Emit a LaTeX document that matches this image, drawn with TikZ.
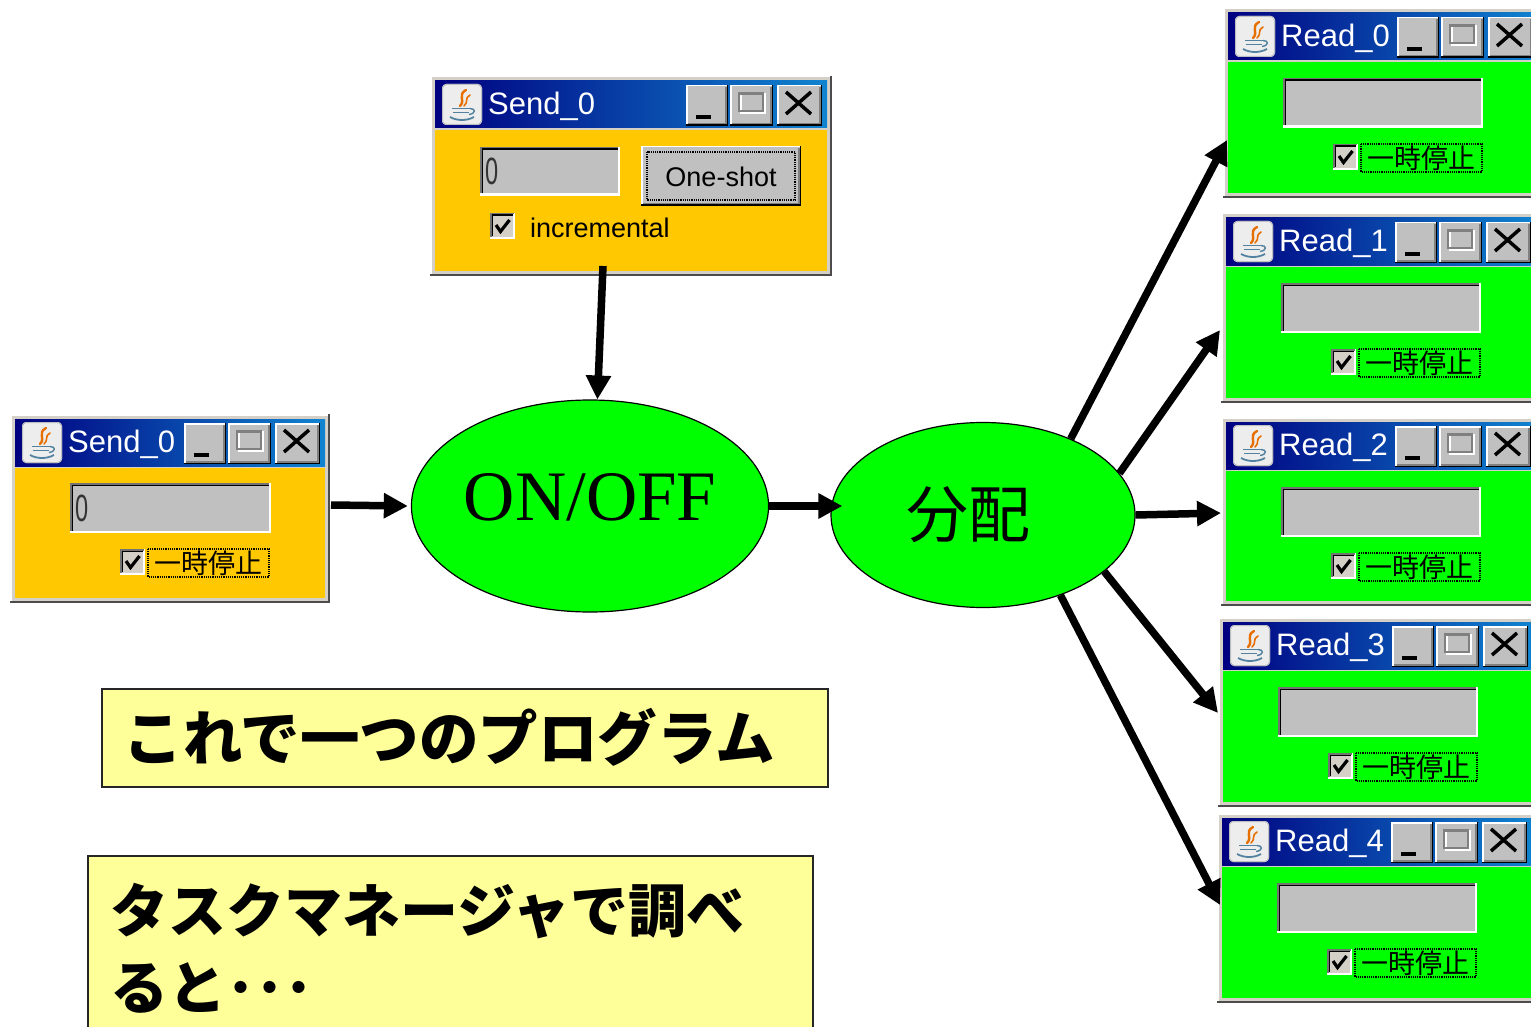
\documentclass[tikz,border=0pt]{standalone}
\usepackage{fontspec}
\setmainfont{Liberation Serif}
\newfontfamily\jp{Noto Sans CJK JP}
\newfontfamily\uisans{Liberation Sans}
\usetikzlibrary{arrows.meta,shapes.geometric}

\definecolor{winorange}{RGB}{255,200,0}
\definecolor{wingreen}{RGB}{0,255,0}
\definecolor{tnavy}{RGB}{0,0,128}
\definecolor{tblue}{RGB}{16,132,208}
\definecolor{btngray}{RGB}{192,192,192}
\definecolor{framegray}{RGB}{212,208,200}
\definecolor{noteyellow}{RGB}{255,255,153}
\definecolor{javaorange}{RGB}{231,111,0}
\definecolor{javablue}{RGB}{83,130,161}

\newcommand{\uifont}[1]{\uisans\fontsize{#1}{#1}\selectfont}
\newcommand{\jpfont}[1]{\jp\fontsize{#1}{#1}\selectfont}

\tikzset{
 arr/.style={line width=7.5pt, -{Triangle[length=24pt,width=24pt]}},
 blob/.style={ellipse, draw=black, line width=1.2pt, fill=wingreen, inner sep=0pt},
 notebox/.style={draw=black!85, line width=1.5pt, fill=noteyellow, align=left, inner ysep=0pt, font=\jp\bfseries\fontsize{58}{77}\selectfont},
 winnode/.style={inner sep=0pt, outer sep=0pt}
}

% raised bevel (button)
\newcommand{\bevelup}[4]{%
  \fill[btngray] (#1,#2) rectangle (#3,#4);
  \draw[white, line width=1.5pt] (#1+0.75,#4-0.75) -- (#1+0.75,#2+0.75) -- (#3-0.75,#2+0.75);
  \draw[black!50, line width=1.5pt] (#1+2,#4-2.25) -- (#3-2.25,#4-2.25) -- (#3-2.25,#2+2);
  \draw[black, line width=1.5pt] (#1,#4-0.75) -- (#3-0.75,#4-0.75) -- (#3-0.75,#2);
}
% sunken text field
\newcommand{\sunken}[4]{%
  \fill[btngray] (#1,#2) rectangle (#3,#4);
  \draw[white, line width=2.5pt] (#1,#4-1.25) -- (#3-1.25,#4-1.25) -- (#3-1.25,#2);
  \draw[black!55, line width=1.5pt] (#1+0.75,#4-2.5) -- (#1+0.75,#2+0.75) -- (#3-2.5,#2+0.75);
  \draw[black, line width=1.5pt] (#1+2.25,#4-2.5) -- (#1+2.25,#2+2.25) -- (#3-2.5,#2+2.25);
}
% checkbox
\newcommand{\chk}[2]{%
  \fill[framegray] (#1,#2) rectangle (#1+25,#2+26);
  \draw[white, line width=2pt] (#1,#2+25) -- (#1+24,#2+25) -- (#1+24,#2);
  \draw[black!55, line width=1.5pt] (#1+0.75,#2+24) -- (#1+0.75,#2+0.75) -- (#1+24,#2+0.75);
  \draw[black, line width=1.5pt] (#1+2.25,#2+23) -- (#1+2.25,#2+2.25) -- (#1+23,#2+2.25);
  \draw[black, line width=3.2pt] (#1+6,#2+12) -- (#1+10.5,#2+18.5) -- (#1+19.5,#2+7);
}
% pause label
\newcommand{\pauselbl}[2]{%
  \draw[black, densely dotted, line width=1.2pt] (#1,#2) rectangle (#1+121,#2+28);
  \node[inner sep=0pt, font=\jpfont{27}] at (#1+60.5,#2+14) {一時停止};
}
% value zero
\newcommand{\zero}[2]{%
  \node[anchor=west, inner sep=0pt, text=black!80, font=\uifont{38}] at (#1,#2) {\scalebox{0.62}[1]{0}};
}
% java icon
\newcommand{\javaicon}{%
  \fill[black!7, rounded corners=4pt] (12,8) rectangle (52,49);
  \draw[black!25, line width=1pt, rounded corners=4pt] (12.5,8.5) rectangle (51.5,48.5);
  \draw[javaorange, line width=2.4pt, line cap=round] (36,14) .. controls (27,19) and (36,24) .. (30,30);
  \draw[javaorange, line width=1.6pt, line cap=round] (40,19) .. controls (34,22) and (39,26) .. (34,30);
  \draw[javablue, line width=1.6pt] (22,32.5) -- (40,32.5);
  \draw[javablue, line width=1.6pt] (23,36.5) -- (39,36.5);
  \draw[javablue, line width=1.4pt] (40,32.5) .. controls (46,32.5) and (46,37.5) .. (39,38.5);
  \draw[javablue, line width=1.8pt] (20,41) .. controls (27,45) and (37,45) .. (44,41);
}
% window: name, X, Y, W, H, title, body colour, widgets
\newcommand{\appwin}[8]{%
 \begin{scope}[shift={(#2,#3)}]
  \node[winnode, minimum width=#4pt, minimum height=#5pt, anchor=north west] (#1) at (0,0) {};
  \fill[framegray] (0,0) rectangle (#4,#5);
  \draw[white, line width=1.5pt] (0.75,#5) -- (0.75,0.75) -- (#4,0.75);
  \draw[black!70, line width=2pt] (0,#5-1) -- (#4-1,#5-1) -- (#4-1,0);
  \shade[left color=tnavy, right color=tblue] (5,5) rectangle (#4-5,52);
  \fill[#7] (5,54) rectangle (#4-5,#5-5);
  \javaicon
  \node[anchor=west, text=white, font=\uifont{31}, inner sep=0pt] at (58,30) {#6};
  \bevelup{#4-146}{9}{#4-104}{50}
  \fill[black] (#4-136,39) rectangle (#4-121,43);
  \bevelup{#4-102}{9}{#4-59}{50}
  \draw[white, line width=1.5pt] (#4-91,18) rectangle (#4-67,37);
  \draw[black!50, line width=1.5pt] (#4-93,16.5) rectangle (#4-69,35);
  \draw[black!50, line width=2.5pt] (#4-93,17.5) -- (#4-69,17.5);
  \bevelup{#4-55}{9}{#4-10}{50}
  \draw[black, line width=3.5pt] (#4-46,16) -- (#4-21,38) (#4-46,38) -- (#4-21,16);
  #8
 \end{scope}}

\begin{document}
\begin{tikzpicture}[x=1pt,y=-1pt]
\useasboundingbox (0,0) rectangle (1531,1027);
\clip (0,0) rectangle (1531,1027);
\fill[white] (0,0) rectangle (1531,1027);

% sender windows
\appwin{s1}{430}{76}{402}{200}{Send\_0}{winorange}{%
  \sunken{50}{71}{190}{120}
  \zero{55}{95}
  \bevelup{211}{70}{371}{130}
  \draw[black, densely dotted, line width=1.2pt] (217,76) rectangle (365,124);
  \node[inner sep=0pt, font=\uifont{27}] at (291,101) {One-shot};
  \chk{60}{137}
  \node[anchor=west, inner sep=0pt, font=\uifont{27}] at (100,152) {incremental};
}
\appwin{s2}{10}{414}{320}{189}{Send\_0}{winorange}{%
  \sunken{60}{69}{261}{119}
  \zero{65}{94}
  \chk{110}{135}
  \pauselbl{138}{135}
}

% reader windows
\appwin{r0}{1223}{8}{320}{190}{Read\_0}{wingreen}{%
  \sunken{60}{70}{260}{120}\chk{110}{136}\pauselbl{138}{136}}
\appwin{r1}{1221}{213}{320}{190}{Read\_1}{wingreen}{%
  \sunken{60}{70}{260}{120}\chk{110}{136}\pauselbl{138}{136}}
\appwin{r2}{1221}{417}{320}{189}{Read\_2}{wingreen}{%
  \sunken{60}{70}{260}{120}\chk{110}{136}\pauselbl{138}{136}}
\appwin{r3}{1218}{617}{320}{190}{Read\_3}{wingreen}{%
  \sunken{60}{70}{260}{120}\chk{110}{136}\pauselbl{138}{136}}
\appwin{r4}{1217}{813}{320}{190}{Read\_4}{wingreen}{%
  \sunken{60}{70}{260}{120}\chk{110}{136}\pauselbl{138}{136}}

% processing ellipses
\node[blob, minimum width=346pt, minimum height=212pt, font=\rmfamily\fontsize{71}{71}\selectfont] (on) at (590,506) {\rule[-18pt]{0pt}{18pt}ON/OFF};
\node[blob, minimum width=304pt, minimum height=185pt, font=\jpfont{62}] (fp) at (983,515) {分配\rule{30pt}{0pt}};

% notes
\node[notebox, anchor=north west, minimum width=726pt, minimum height=98pt, text width=682pt, inner xsep=22pt, font=\jp\bfseries\fontsize{59.5}{77}\selectfont] (t1) at (101,688) {これで一つのプログラム};
\node[notebox, anchor=north west, minimum width=725pt, minimum height=185pt, text width=679pt, inner xsep=23pt] (t2) at (87,855) {タスクマネージャで調べ\\ると･･･};

% connector end points
\coordinate (s1out) at (603,266);
\coordinate (s2out) at (331,505);
\coordinate (r0in) at (1227,140);
\coordinate (r1in) at (1220,330);
\coordinate (r2in) at (1221,513);
\coordinate (r3in) at (1218,713);
\coordinate (r4in) at (1220,905);

% connectors
\draw[arr] (s1out) -- (on.86);
\draw[arr] (s2out) -- ([xshift=-3pt]on.west);
\draw[arr] (on.east) -- ([xshift=12pt]on.east -| fp.west);
\draw[arr] (fp.41) -- (r0in);
\draw[arr] (fp.17) -- (r1in);
\draw[arr] (fp.0) -- (r2in);
\draw[arr] (fp.-25) -- (r3in);
\draw[arr] (fp.-46) -- (r4in);
\end{tikzpicture}
\end{document}
